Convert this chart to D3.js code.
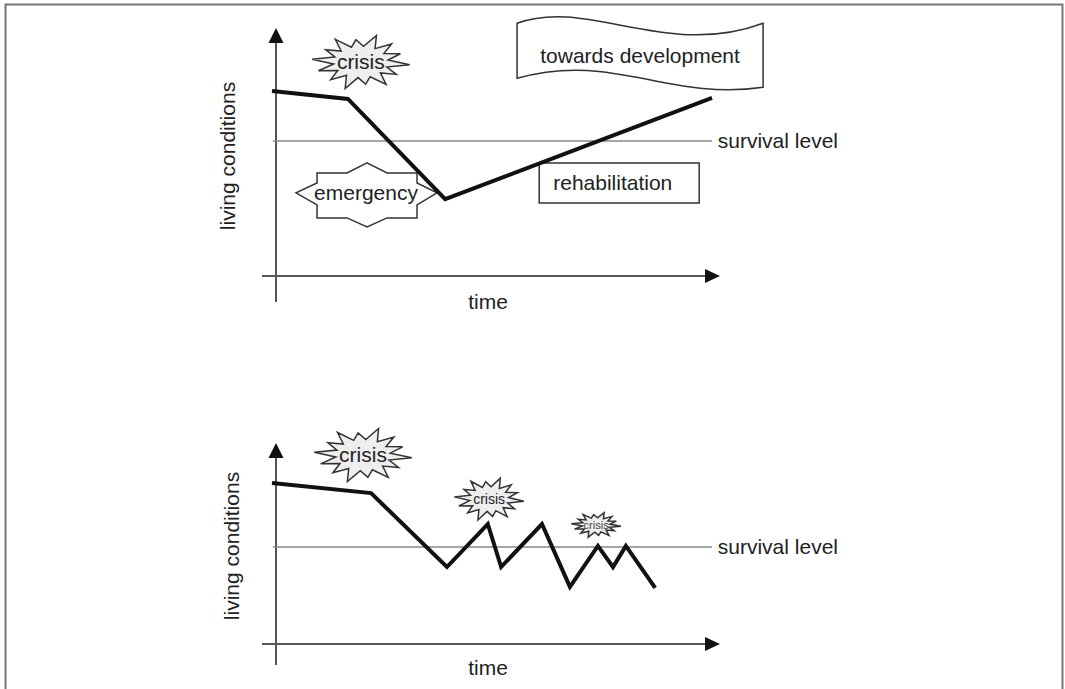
<!DOCTYPE html>
<html><head><meta charset="utf-8">
<script src="https://cdn.jsdelivr.net/npm/d3@7"></script>
<style>
html,body{margin:0;padding:0;background:#fff;}
text{font-family:"Liberation Sans",Arial,sans-serif;fill:#222;}
</style></head>
<body>
<svg id="c" width="1065" height="689"></svg>
<script>
// ---- data (time units 0..100, living-condition units 0..100) ----
const topTime   = [-0.9, 16.2, 38.1, 98.2];
const topLiving = [74.6, 71.4, 31.0, 71.8];
const topSurvival = 54.4;

const botTime   = [-0.9, 21.4, 38.5, 47.7, 50.7, 59.9, 66.2, 72.5, 75.9, 78.8, 85.4];
const botLiving = [80.1, 75.1, 38.3, 59.7, 38.3, 59.7, 28.4, 48.8, 38.3, 48.8, 27.9];
const botSurvival = 48.3;

const axisLabelY = "living conditions";
const axisLabelX = "time";
const survivalLabel = "survival level";

// annotations (anchor in data units)
const topNotes = [
  {type:"burst", text:"crisis", x:19.1, y:86.3, rx:49, ry:28, fs:21},
  {type:"banner", text:"towards development", x:82.0, y:89.0},
  {type:"star", text:"emergency", x:20.5, y:33.5},
  {type:"box", text:"rehabilitation", x:77.3, y:37.5}
];
const botNotes = [
  {type:"burst", text:"crisis", x:19.6, y:94.0, rx:49, ry:28, fs:21},
  {type:"burst", text:"crisis", x:48.0, y:72.1, rx:35, ry:22, fs:14},
  {type:"burst", text:"crisis", x:72.1, y:59.2, rx:25, ry:13, fs:11}
];
const spikeLens = [1.0,0.85,0.95,0.8,1.0,0.88,0.92,1.0,0.84,0.96,0.8,1.0,0.9,0.86];

const svg = d3.select("#c");
// frame
svg.append("rect").attr("x",5.5).attr("y",4.5).attr("width",1057).attr("height",720)
  .attr("fill","none").attr("stroke","#777").attr("stroke-width",2);

function drawPanel(cfg){
  const g = svg.append("g");
  const x = d3.scaleLinear().domain([0,100]).range([276,720]);
  const y = d3.scaleLinear().domain([0,100]).range([cfg.y0, cfg.yTop]);
  const ax = x(0), ay = y(0);
  // axes
  g.append("line").attr("x1",ax).attr("x2",ax).attr("y1",cfg.yBottom).attr("y2",y(100)+12)
    .attr("stroke","#555").attr("stroke-width",2);
  g.append("line").attr("x1",ax-14).attr("x2",x(100)-12).attr("y1",ay).attr("y2",ay)
    .attr("stroke","#555").attr("stroke-width",2);
  g.append("path").attr("d",`M${ax},${y(100)}L${ax-7.5},${y(100)+15}L${ax+7.5},${y(100)+15}Z`).attr("fill","#111");
  g.append("path").attr("d",`M${x(100)},${ay}L${x(100)-15},${ay-7}L${x(100)-15},${ay+7}Z`).attr("fill","#111");
  // survival
  g.append("line").attr("x1",x(-0.7)).attr("x2",x(98.2)).attr("y1",y(cfg.surv)).attr("y2",y(cfg.surv))
    .attr("stroke","#888").attr("stroke-width",1.5);
  g.append("text").attr("x",x(99.5)).attr("y",y(cfg.surv)).attr("dy","0.35em")
    .attr("font-size",21).text(survivalLabel);
  // labels
  g.append("text").attr("transform",`translate(${cfg.ylx},${cfg.yly}) rotate(-90)`)
    .attr("text-anchor","middle").attr("dy","0.35em").attr("font-size",21).text(axisLabelY);
  g.append("text").attr("x",488).attr("y",cfg.tly).attr("text-anchor","middle").attr("dy","0.35em")
    .attr("font-size",21).text(axisLabelX);

  const annG = g.append("g");
  cfg.notes.forEach(n=>{
    const cx = x(n.x), cy = y(n.y);
    if(n.type==="star"){
      const pts=[[-50,-20],[-20,-20],[0,-30],[20,-20],[50,-20],[50,-10],[70,0],[50,12],[50,25],[20,25],[0,34],[-20,25],[-50,25],[-50,12],[-71,0],[-50,-10]];
      annG.append("path").attr("d","M"+pts.map(p=>[cx+p[0],cy+p[1]].join(",")).join("L")+"Z")
        .attr("fill","#fff").attr("stroke","#333").attr("stroke-width",1.5);
      annG.append("text").attr("x",cx-1).attr("y",cy).attr("dy","0.35em").attr("text-anchor","middle")
        .attr("font-size",21).text(n.text);
    } else if(n.type==="box"){
      annG.append("rect").attr("x",cx-80).attr("y",cy-20).attr("width",160).attr("height",40)
        .attr("fill","#fff").attr("stroke","#333").attr("stroke-width",1.5);
      annG.append("text").attr("x",cx-66).attr("y",cy).attr("dy","0.35em")
        .attr("font-size",21).text(n.text);
    } else if(n.type==="banner"){
      const L=cx-123, R=cx+123, T=cy-32;
      const d=`M${L},${T} C${L+70},${T-26} ${L+150},${T+36} ${R},${T}`+
              ` L${R},${T+64} C${R-95},${T+78} ${L+95},${T+28} ${L},${T+55} Z`;
      annG.append("path").attr("d",d).attr("fill","#fff").attr("stroke","#333").attr("stroke-width",1.5);
      annG.append("text").attr("x",cx).attr("y",cy).attr("dy","0.35em").attr("text-anchor","middle")
        .attr("font-size",21).text(n.text);
    }
  });

  // main line
  const line = d3.line().x(d=>x(d[0])).y(d=>y(d[1]));
  g.append("path").datum(cfg.t.map((t,i)=>[t,cfg.v[i]])).attr("d",line)
    .attr("fill","none").attr("stroke","#111").attr("stroke-width",4).attr("stroke-linejoin","miter");

  // bursts on top
  cfg.notes.filter(n=>n.type==="burst").forEach(n=>{
    const cx=x(n.x), cy=y(n.y);
    const N=spikeLens.length, pts=[];
    for(let i=0;i<2*N;i++){
      const a = i*Math.PI/N + 0.1;
      const r = i%2===0 ? spikeLens[i/2] : 0.56;
      pts.push([cx+Math.cos(a)*n.rx*r, cy+Math.sin(a)*n.ry*r]);
    }
    g.append("path").attr("d","M"+pts.map(p=>p.join(",")).join("L")+"Z")
      .attr("fill","#eee").attr("stroke","#333").attr("stroke-width",1.5).attr("stroke-linejoin","miter");
    g.append("text").attr("x",cx).attr("y",cy).attr("dy","0.35em").attr("text-anchor","middle")
      .attr("font-size",n.fs).style("fill", n.fs<12?"#444":"#222").text(n.text);
  });
}

drawPanel({y0:276, yTop:28, yBottom:302, surv:topSurvival, t:topTime, v:topLiving,
  ylx:228, yly:156, tly:302, notes:topNotes});
drawPanel({y0:644, yTop:443, yBottom:665, surv:botSurvival, t:botTime, v:botLiving,
  ylx:232, yly:546, tly:668, notes:botNotes});
</script>
</body></html>
